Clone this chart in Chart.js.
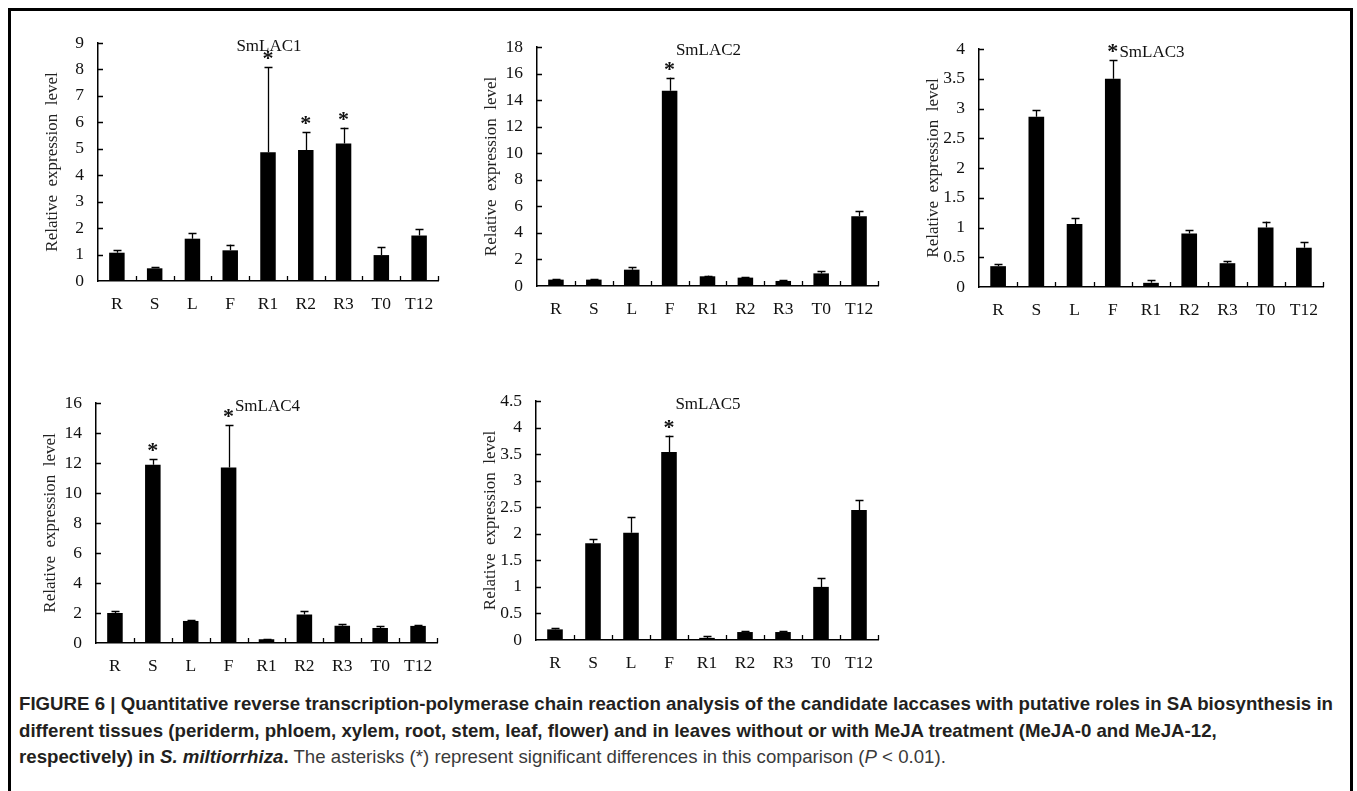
<!DOCTYPE html>
<html><head><meta charset="utf-8">
<script src="https://cdn.jsdelivr.net/npm/chart.js@4.4.0/dist/chart.umd.min.js"></script>
<style>
html,body{margin:0;padding:0;background:#fff;width:1357px;height:791px;overflow:hidden;}
#frame{position:absolute;left:8px;top:8px;width:1345px;height:820px;border:3px solid #000;box-sizing:border-box;}
.panel{position:absolute;}
#cap{position:absolute;left:19px;top:691px;font-family:"Liberation Sans Narrow","Liberation Sans",Arial,sans-serif;font-size:19px;line-height:26.5px;color:#231f20;white-space:nowrap;transform-origin:0 0;}
#cap .reg{font-weight:normal;color:#3a3a3a;}
</style></head>
<body>
<div id="frame"></div>
<div id="p1" class="panel"><canvas></canvas></div>
<div id="p2" class="panel"><canvas></canvas></div>
<div id="p3" class="panel"><canvas></canvas></div>
<div id="p4" class="panel"><canvas></canvas></div>
<div id="p5" class="panel"><canvas></canvas></div>
<div id="cap"><b><span id="line1">FIGURE 6 | Quantitative reverse transcription-polymerase chain reaction analysis of the candidate laccases with putative roles in SA biosynthesis in</span><br>different tissues (periderm, phloem, xylem, root, stem, leaf, flower) and in leaves without or with MeJA treatment (MeJA-0 and MeJA-12,<br>respectively) in <i>S. miltiorrhiza</i>.</b><span class="reg"> The asterisks (*) represent significant differences in this comparison (<i>P</i> &lt; 0.01).</span></div>
<script>
// ---------------- data ----------------
const categories = ['R','S','L','F','R1','R2','R3','T0','T12'];
const panelTitles = ['SmLAC1','SmLAC2','SmLAC3','SmLAC4','SmLAC5'];
const yTitle = 'Relative  expression  level';

const lac1Mean = [1.07,0.48,1.60,1.16,4.87,4.95,5.20,0.98,1.72];
const lac1Err  = [0.09,0.05,0.20,0.22,3.21,0.68,0.60,0.30,0.25];
const lac1Sig  = [0,0,0,0,1,1,1,0,0];

const lac2Mean = [0.48,0.48,1.23,14.70,0.73,0.63,0.38,0.95,5.25];
const lac2Err  = [0.07,0.07,0.20,1.00,0.06,0.06,0.05,0.15,0.40];
const lac2Sig  = [0,0,0,1,0,0,0,0,0];

const lac3Mean = [0.35,2.86,1.06,3.50,0.07,0.90,0.40,1.00,0.66];
const lac3Err  = [0.04,0.11,0.10,0.31,0.04,0.05,0.04,0.10,0.09];
const lac3Sig  = [0,0,0,1,0,0,0,0,0];

const lac4Mean = [2.00,11.88,1.47,11.70,0.25,1.90,1.15,1.00,1.14];
const lac4Err  = [0.14,0.40,0.05,2.85,0.03,0.22,0.13,0.13,0.07];
const lac4Sig  = [0,1,0,1,0,0,0,0,0];

const lac5Mean = [0.20,1.82,2.02,3.54,0.04,0.15,0.15,1.00,2.45];
const lac5Err  = [0.02,0.08,0.30,0.31,0.04,0.02,0.02,0.16,0.19];
const lac5Sig  = [0,0,0,1,0,0,0,0,0];

const yMaxes = [9,18,4,16,4.5];
const ySteps = [1,2,0.5,2,0.5];

// ---------------- layout ----------------
const areas = [
  {id:'p1',L:98,R:438,T:43,B:281},
  {id:'p2',L:537,R:878,T:47,B:286},
  {id:'p3',L:979,R:1323,T:49,B:287},
  {id:'p4',L:96,R:437,T:403,B:643},
  {id:'p5',L:536,R:878,T:401,B:640}
];
const YW = 90, XH = 42, PADT = 14, PADR = 8;
const SERIF = '"Liberation Serif","Times New Roman",serif';
const FS = 17.5;

const extrasPlugin = {
  id:'extras',
  afterDatasetsDraw(chart){
    const {ctx, scales:{x,y}, chartArea} = chart;
    const ds = chart.data.datasets[0];
    const meta = chart.getDatasetMeta(0);
    ctx.save();
    // inward tick marks
    ctx.strokeStyle = '#000'; ctx.lineWidth = 1.3;
    ctx.beginPath();
    y.ticks.forEach((t,i)=>{ if(i===0) return; const py = Math.round(y.getPixelForTick(i))+0.5; ctx.moveTo(x.left, py); ctx.lineTo(x.left+5, py); });
    const w = x.getPixelForValue(1) - x.getPixelForValue(0);
    for(let i=0;i<categories.length;i++){ const px = Math.round(x.getPixelForValue(i)+w/2)+0.5; ctx.moveTo(px, y.bottom); ctx.lineTo(px, y.bottom-5); }
    ctx.stroke();
    // error bars
    ctx.lineWidth = 1.3;
    ctx.beginPath();
    meta.data.forEach((bar,i)=>{
      const top = y.getPixelForValue(ds.data[i] + ds.errors[i]);
      const bx = Math.round(bar.x)+0.5;
      ctx.moveTo(bx, bar.y); ctx.lineTo(bx, top);
      ctx.moveTo(bx-4, Math.round(top)+0.5); ctx.lineTo(bx+4, Math.round(top)+0.5);
    });
    ctx.stroke();
    // significance asterisks
    ctx.fillStyle = '#111';
    ctx.font = 'bold 22px ' + SERIF;
    ctx.textAlign = 'center'; ctx.textBaseline = 'alphabetic';
    meta.data.forEach((bar,i)=>{
      if(!ds.sig[i]) return;
      const top = y.getPixelForValue(ds.data[i] + ds.errors[i]);
      ctx.fillText('*', bar.x, top - 2);
    });
    // panel title
    const t = chart.options.plugins.extras.title;
    ctx.font = '17px ' + SERIF;
    ctx.textBaseline = 'middle';
    ctx.fillStyle = '#111';
    ctx.fillText(t, (chartArea.left+chartArea.right)/2 + 1, chartArea.top + 4);
    ctx.restore();
  }
};

const means = [lac1Mean,lac2Mean,lac3Mean,lac4Mean,lac5Mean];
const errs = [lac1Err,lac2Err,lac3Err,lac4Err,lac5Err];
const sigs = [lac1Sig,lac2Sig,lac3Sig,lac4Sig,lac5Sig];

areas.forEach((a,k)=>{
  const div = document.getElementById(a.id);
  div.style.left = (a.L - YW) + 'px';
  div.style.top = (a.T - PADT) + 'px';
  div.style.width = (a.R - a.L + YW + PADR) + 'px';
  div.style.height = (a.B - a.T + PADT + XH) + 'px';
  new Chart(div.querySelector('canvas'), {
    type:'bar',
    data:{labels:categories, datasets:[{data:means[k], errors:errs[k], sig:sigs[k], backgroundColor:'#000', borderWidth:0, barPercentage:0.41, categoryPercentage:1.0}]},
    options:{
      responsive:true, maintainAspectRatio:false, animation:false,
      layout:{padding:{top:PADT,right:PADR,left:0,bottom:0}},
      plugins:{legend:{display:false}, tooltip:{enabled:false}, extras:{title:panelTitles[k]}},
      scales:{
        x:{
          type:'category', offset:true,
          grid:{display:false, drawTicks:false},
          border:{display:true,color:'#000',width:1.5},
          ticks:{color:'#111', font:{family:SERIF,size:FS}, padding:13, maxRotation:0, autoSkip:false},
          afterFit(s){ s.height = XH; s.paddingLeft = 0; s.paddingRight = 0; }
        },
        y:{
          min:0, max:yMaxes[k],
          grid:{display:false, drawTicks:false},
          border:{display:true,color:'#000',width:1.5},
          ticks:{stepSize:ySteps[k], color:'#111', font:{family:SERIF,size:FS}, padding:14, callback:(v)=>String(+v.toFixed(2))},
          title:{display:true, text:yTitle, color:'#222', font:{family:SERIF,size:17}, padding:{top:34,bottom:0}},
          afterFit(s){ s.width = YW; s.paddingTop = 0; s.paddingBottom = 0; }
        }
      }
    },
    plugins:[extrasPlugin]
  });
});

// caption width fit
const cap = document.getElementById('cap');
const l1 = document.getElementById('line1');
const wNat = l1.getBoundingClientRect().width;
cap.style.transform = 'scaleX(' + (1314 / wNat) + ')';
</script>
</body></html>
